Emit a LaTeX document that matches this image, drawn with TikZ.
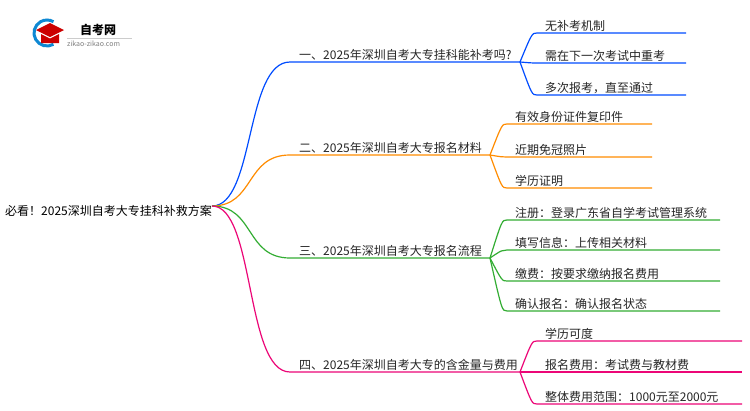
\documentclass[tikz,border=0pt]{standalone}
\usepackage{fontspec}
\setmainfont{Noto Sans CJK SC}
\begin{document}
\begin{tikzpicture}[x=1pt,y=-1pt,
 lab/.style={anchor=south west,inner sep=1pt,font=\fontsize{12}{14}\selectfont,text=black!85},
 br/.style={line width=1.2pt}]
\useasboundingbox (0,0) rectangle (750,410);
\fill[white] (0,0) rectangle (750,410);
% logo
\draw[line width=3pt,color=cyan!70!blue] (47,33) ++(60:13) arc (60:300:13);
\fill[red!80!black] (36,30) -- (50,23) -- (64,30) -- (50,37) -- cycle;
\fill[red!80!black] (41,34) -- (50,38.5) -- (59,34) -- (59,43) -- (41,43) -- cycle;
\node[anchor=west,inner sep=0,font=\fontsize{12}{14}\selectfont\bfseries] (logo) at (80,30) {自考网};
\draw[gray!40] (67,38) -- (132,38);
\node[anchor=west,inner sep=0,font=\fontsize{7}{8}\selectfont,text=gray] (logourl) at (67,44) {zikao-zikao.com};
% root
\node[anchor=west,inner sep=1pt,font=\fontsize{12}{14}\selectfont] (root) at (4,211) {必看！2025深圳自考大专挂科补救方案};
\coordinate (r) at (212,206);
% branches
\foreach \c/\y/\t/\e [count=\i] in {
 {blue!70!cyan}/62/{一、2025年深圳自考大专挂科能补考吗?}/520,
 {orange!90!yellow}/155/{二、2025年深圳自考大专报名材料}/490,
 {green!60!black!80}/258/{三、2025年深圳自考大专报名流程}/490,
 {magenta!80!red}/372/{四、2025年深圳自考大专的含金量与费用}/520}{
 \node[lab] (b\i) at (298,\y) {\t};
 \coordinate (bs\i) at (290,\y); \coordinate (be\i) at (\e,\y);
 \draw[br,\c] (r) .. controls (255,206) and (245,\y) .. (bs\i) -- (be\i);
}
\foreach \bi/\c/\e/\f/\ys/\ts in {
 1/{blue!70!cyan}/520/686/{33,63,95}/{无补考机制,需在下一次考试中重考,多次报考，直至通过},
 2/{orange!90!yellow}/490/652/{124,157,188}/{有效身份证件复印件,近期免冠照片,学历证明},
 3/{green!60!black!80}/490/720/{220,250,281,311}/{注册：登录广东省自学考试管理系统,填写信息：上传相关材料,缴费：按要求缴纳报名费用,确认报名：确认报名状态},
 4/{magenta!80!red}/520/742/{341,372,404}/{学历可度,报名费用：考试费与教材费,整体费用范围：1000元至2000元}}{
 \foreach \y [count=\j] in \ys {
  \node[lab] (c\bi\j) at ({\e+24},\y) {\foreach \tt [count=\k] in \ts {\ifnum\k=\j\relax\tt\fi}};
  \coordinate (ce\bi\j) at (\f,\y);
  \draw[br,\c] (be\bi) .. controls ({\e+12},\y) .. ({\e+17},\y) -- (ce\bi\j);
 }
}
\end{tikzpicture}
\end{document}
